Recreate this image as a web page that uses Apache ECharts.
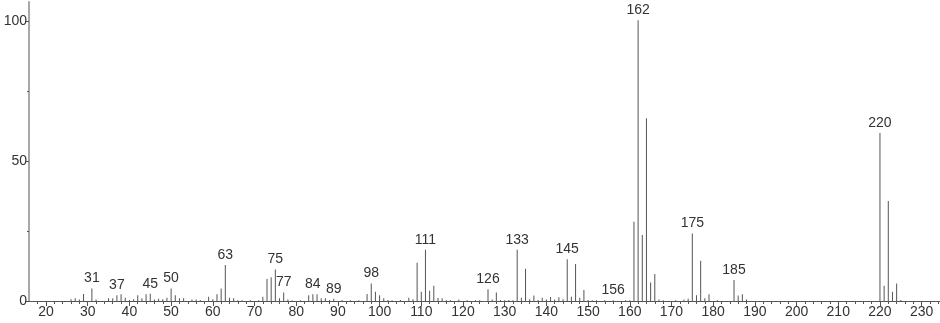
<!DOCTYPE html>
<html>
<head>
<meta charset="utf-8">
<script src="https://cdn.jsdelivr.net/npm/echarts@6/dist/echarts.min.js"></script>
<style>
html,body{margin:0;padding:0;background:#fff;}
#chart{width:940px;height:323px;}
</style>
</head>
<body>
<div id="chart"></div>
<script>
// m/z values
const masses = [26,27,28,29,31,32,35,36,37,38,39,40,41,42,43,44,45,46,47,48,49,50,51,52,53,55,56,57,59,60,61,62,63,64,65,66,67,69,71,72,73,74,75,76,77,78,79,81,83,84,85,86,87,88,89,91,93,95,97,98,99,100,101,102,103,105,107,108,109,110,111,112,113,114,115,116,117,119,121,123,124,126,127,128,129,130,131,132,133,134,135,136,137,138,139,140,141,142,143,144,145,146,147,148,149,150,151,152,154,156,159,160,161,162,163,164,165,166,167,168,171,173,174,175,176,177,178,179,181,185,186,187,188,220,221,222,223,224,225];
// relative intensities (%)
const intensities = [0.6,1.0,0.5,2.5,4.5,0.5,1.0,1.0,2.1,2.4,1.2,0.4,0.6,2.1,1.0,2.4,2.6,0.5,0.8,0.6,1.2,4.5,2.1,1.0,1.0,0.5,0.5,0.4,1.5,0.6,2.4,4.5,12.9,1.2,1.0,0.3,0.3,0.3,0.3,1.5,7.9,8.5,11.3,1.0,3.0,0.5,0.3,0.3,2.1,2.4,2.4,1.0,1.0,0.4,0.8,0.4,0.3,0.3,2.5,6.3,3.3,2.1,1.0,0.4,0.3,0.4,1.2,0.6,13.7,3.3,18.3,3.7,5.5,1.1,1.0,0.3,0.3,0.5,0.3,0.3,0.3,4.2,0.5,3.0,0.4,0.3,0.4,0.3,18.3,1.2,11.5,0.6,2.0,0.4,1.2,0.5,1.4,0.5,1.3,0.6,14.9,1.5,13.2,1.2,3.9,0.4,0.3,0.3,0.3,0.3,0.3,0.3,28.4,100.5,23.6,65.4,6.6,9.7,0.5,0.3,0.3,0.5,0.8,24.2,2.1,14.4,1.0,2.4,0.3,7.5,2.0,2.4,0.5,60.1,5.5,35.8,3.3,6.3,0.4];
// peaks carrying an m/z label
const labeledMasses = [31,37,45,50,63,75,77,84,89,98,111,126,133,145,156,162,175,185,220];
// axis ticks
const xMajorTicks = [20,30,40,50,60,70,80,90,100,110,120,130,140,150,160,170,180,190,200,210,220,230];
const xMinorTicks = [18,22,24,26,28,32,34,36,38,42,44,46,48,52,54,56,58,62,64,66,68,72,74,76,78,82,84,86,88,92,94,96,98,102,104,106,108,112,114,116,118,122,124,126,128,132,134,136,138,142,144,146,148,152,154,156,158,162,164,166,168,172,174,176,178,182,184,186,188,192,194,196,198,202,204,206,208,212,214,216,218,222,224,226,228,232,234];
const yMajorTicks = [0,50,100];
const yMinorTicks = [25,75];

const FONT = '"Liberation Sans", Arial, sans-serif';
const chart = echarts.init(document.getElementById('chart'), null, {renderer:'canvas'});

const seriesData = masses.map((m, i) => {
  const item = {value: [m, intensities[i]]};
  if (labeledMasses.indexOf(m) >= 0) {
    item.label = {show: true};
  }
  return item;
});

chart.setOption({
  animation: false,
  backgroundColor: '#fff',
  grid: {left: 29, right: 0, top: 2, bottom: 22, containLabel: false},
  xAxis: [{
    type: 'value', min: 15.92, max: 234.4,
    axisLine: {show: true, lineStyle: {color: '#555', width: 1}},
    axisTick: {show: true, length: 5, customValues: xMajorTicks, lineStyle: {color: '#555'}},
    axisLabel: {show: true, customValues: xMajorTicks, margin: 4, color: '#333', fontSize: 14, fontFamily: FONT},
    splitLine: {show: false}
  }, {
    type: 'value', min: 15.92, max: 234.4, position: 'bottom',
    axisLine: {show: false},
    axisTick: {show: true, length: 3, customValues: xMinorTicks, lineStyle: {color: '#555'}},
    axisLabel: {show: false},
    splitLine: {show: false}
  }],
  yAxis: [{
    type: 'value', min: 0, max: 107,
    axisLine: {show: true, lineStyle: {color: '#a8a8a8', width: 2}},
    axisTick: {show: true, length: 4, customValues: yMajorTicks, lineStyle: {color: '#555'}},
    axisLabel: {show: true, customValues: yMajorTicks, margin: 2, color: '#333', fontSize: 14, fontFamily: FONT},
    splitLine: {show: false}
  }, {
    type: 'value', min: 0, max: 107, position: 'left',
    axisLine: {show: false},
    axisTick: {show: true, length: 2, customValues: yMinorTicks, lineStyle: {color: '#555'}},
    axisLabel: {show: false},
    splitLine: {show: false}
  }],
  series: [{
    type: 'bar',
    xAxisIndex: 0, yAxisIndex: 0,
    barWidth: 1,
    data: seriesData,
    itemStyle: {color: '#555'},
    label: {show: false, position: 'top', distance: 3, color: '#333', fontSize: 14, fontFamily: FONT,
      formatter: p => String(p.value[0])},
    emphasis: {disabled: true}
  }]
});
</script>
</body>
</html>
